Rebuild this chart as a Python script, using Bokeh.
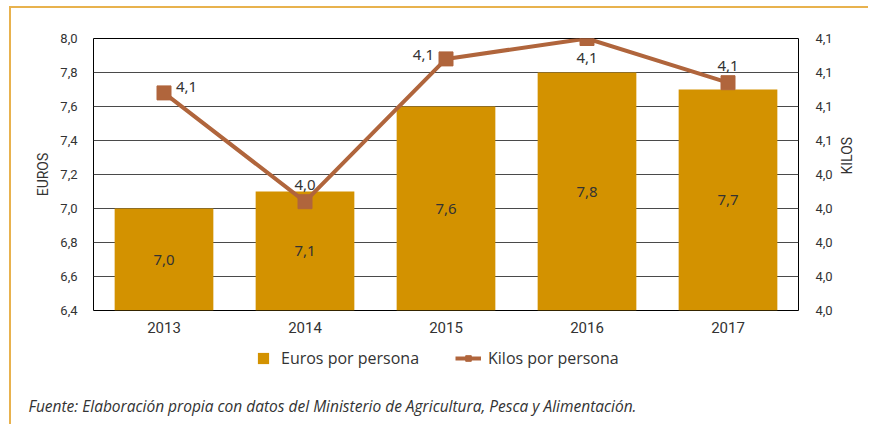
import math
from bokeh.plotting import figure
from bokeh.layouts import column
from bokeh.models import (ColumnDataSource, Range1d, LinearAxis, FixedTicker,
                          CustomJSTickFormatter, Legend, LegendItem, Title)
from bokeh.core.properties import value
from bokeh.embed import file_html
from bokeh.resources import INLINE

# ---------------- data ----------------
years = ["2013", "2014", "2015", "2016", "2017"]
euros = [7.0, 7.1, 7.6, 7.8, 7.7]
kilos = [4.074, 4.042, 4.084, 4.090, 4.077]

left_ticks = [6.4, 6.6, 6.8, 7.0, 7.2, 7.4, 7.6, 7.8, 8.0]
right_ticks = [4.01, 4.02, 4.03, 4.04, 4.05, 4.06, 4.07, 4.08, 4.09]
right_tick_labels = ["4,0", "4,0", "4,0", "4,0", "4,0", "4,1", "4,1", "4,1", "4,1"]

series_names = ["Euros por persona", "Kilos por persona"]
source_note = "Fuente: Elaboración propia con datos del Ministerio de Agricultura, Pesca y Alimentación."

euro_label_text = [f"{v:.1f}".replace(".", ",") for v in euros]
kilo_label_text = [f"{v:.1f}".replace(".", ",") for v in kilos]
kilo_label_place = ["right", "above", "left", "below", "above"]

# ---------------- styles ----------------
BAR = "#D39200"
LINE = "#B0653C"
TXT = "#333333"
FRAME = "#E8B24E"
FONT = "Roboto"
W = 857

p = figure(frame_width=705, frame_height=272, x_range=years,
           y_range=Range1d(left_ticks[0], left_ticks[-1]),
           output_backend="svg", toolbar_location=None,
           min_border_left=82, min_border_right=70, min_border_top=30,
           min_border_bottom=26)
p.extra_y_ranges = {"kilos": Range1d(right_ticks[0], right_ticks[-1])}

p.outline_line_color = "black"
p.outline_line_width = 1
p.background_fill_color = "white"
p.border_fill_color = "white"

# left axis
ya = p.yaxis[0]
ya.ticker = FixedTicker(ticks=left_ticks)
ya.formatter = CustomJSTickFormatter(code="return tick.toFixed(1).replace('.', ',');")
ya.axis_label = "EUROS"

# right axis
ra = LinearAxis(y_range_name="kilos", ticker=FixedTicker(ticks=right_ticks),
                formatter=CustomJSTickFormatter(args=dict(labels=right_tick_labels),
                                                code="return labels[index];"),
                axis_label="KILOS")
p.add_layout(ra, "right")
if "axis_label_orientation" in LinearAxis.properties():
    ra.axis_label_orientation = math.pi / 2

for ax in [ya, ra]:
    ax.axis_line_color = None
    ax.major_tick_line_color = None
    ax.minor_tick_line_color = None
    ax.major_label_text_font = FONT
    ax.major_label_text_font_size = "13px"
    ax.major_label_text_color = TXT
    ax.axis_label_text_font = FONT
    ax.axis_label_text_font_size = "14px"
    ax.axis_label_text_font_style = "normal"
    ax.axis_label_text_color = TXT
ya.major_label_standoff = 10
ya.axis_label_standoff = 6
ra.major_label_standoff = 11
ra.axis_label_standoff = 11

xa = p.xaxis[0]
xa.axis_line_color = None
xa.major_tick_line_color = None
xa.minor_tick_line_color = None
xa.major_label_text_font = FONT
xa.major_label_text_font_size = "15px"
xa.major_label_text_color = TXT
xa.major_label_standoff = 5

p.xgrid.grid_line_color = None
p.ygrid.grid_line_color = "#4a4a4a"
p.ygrid.grid_line_width = 1
p.ygrid.ticker = FixedTicker(ticks=left_ticks)

# bars
bar_src = ColumnDataSource(dict(x=years, top=euros,
                                mid=[(left_ticks[0] + v) / 2 for v in euros],
                                lab=euro_label_text))
p.vbar(x="x", top="top", bottom=left_ticks[0], width=0.7, source=bar_src,
       fill_color=BAR, line_color=None)
p.text(x="x", y="mid", text="lab", source=bar_src, text_align="center",
       text_baseline="middle", text_font=value("Noto Sans"),
       text_font_size="15px", text_color=TXT)

# line
offs = {"right": (12, -6, "left"), "above": (0, -17, "center"),
        "left": (-12, -4, "right"), "below": (0, 19, "center")}
line_src = ColumnDataSource(dict(
    x=years, y=kilos, lab=kilo_label_text,
    xo=[offs[k][0] for k in kilo_label_place],
    yo=[offs[k][1] for k in kilo_label_place],
    al=[offs[k][2] for k in kilo_label_place]))
p.line(x="x", y="y", source=line_src, y_range_name="kilos",
       line_color=LINE, line_width=4)
p.scatter(x="x", y="y", source=line_src, y_range_name="kilos",
          marker="square", size=14, fill_color=LINE, line_color=LINE)
p.text(x="x", y="y", text="lab", source=line_src, y_range_name="kilos",
       x_offset="xo", y_offset="yo", text_align="al", text_baseline="middle",
       text_font=value("Noto Sans"), text_font_size="15px", text_color=TXT)

# ---------------- bottom strip: legend + source note ----------------
q = figure(width=W, height=80, x_range=Range1d(0, 1), y_range=Range1d(0, 1),
           x_axis_type=None, y_axis_type=None, output_backend="svg",
           toolbar_location=None, min_border=0)
q.outline_line_color = None
q.grid.visible = False
q.background_fill_color = "white"
q.border_fill_color = "white"

# legend swatches (kept outside the visible range)
g_bar = q.quad(left=[-10], right=[-9], bottom=[-11], top=[-10],
               fill_color=BAR, line_color=None)
g_line = q.line(x=[-10, -9], y=[-10, -10], line_color=LINE, line_width=4)
g_mk = q.scatter(x=[-10], y=[-10], marker="square", size=18, fill_color=LINE,
                 line_color=LINE)

common = dict(orientation="horizontal", label_text_font="Open Sans",
              label_text_font_size="16px", label_text_color=TXT,
              glyph_height=14, border_line_color=None,
              background_fill_alpha=0, margin=0, padding=4)
leg1 = Legend(items=[LegendItem(label=series_names[0], renderers=[g_bar])],
              location=(163, 23), glyph_width=14, label_standoff=11, **common)
leg2 = Legend(items=[LegendItem(label=series_names[1], renderers=[g_line, g_mk])],
              location=(362, 23), glyph_width=26, label_standoff=7, **common)
q.add_layout(leg1, "center")
q.add_layout(leg2, "center")

foot = Title(text=source_note, align="left", text_font="Open Sans",
             text_font_style="italic", text_font_size="15.5px",
             text_color=TXT, offset=-65, standoff=0)
q.add_layout(foot, "below")

layout = column(p, q, spacing=0)
layout.styles = {"border-top": f"2px solid {FRAME}",
                 "border-left": f"2px solid {FRAME}",
                 "margin-left": "9px", "margin-top": "6px",
                 "padding-bottom": "8px"}

open("out.html", "w").write(file_html(layout, INLINE))
